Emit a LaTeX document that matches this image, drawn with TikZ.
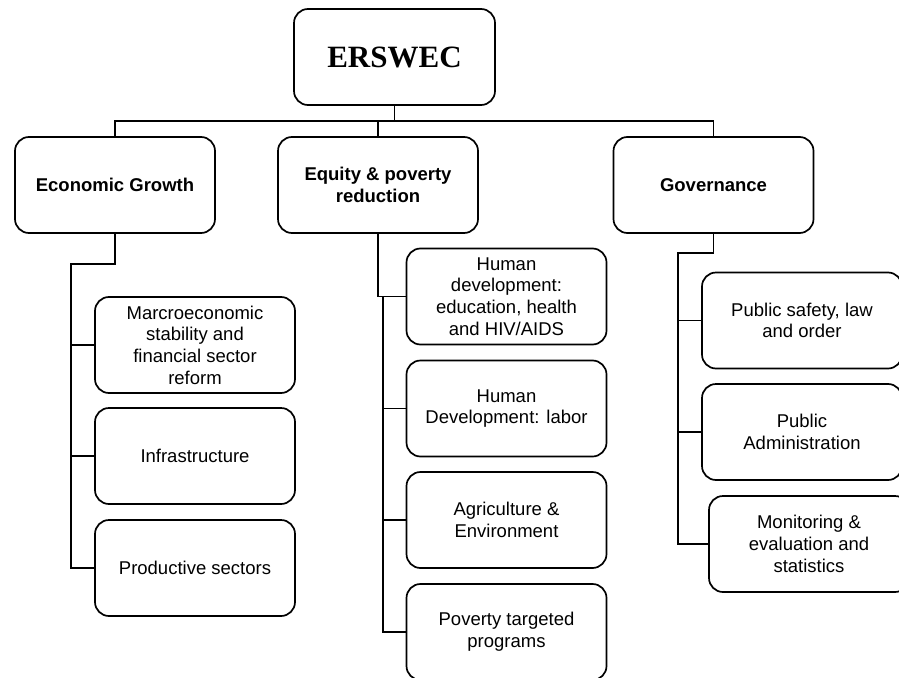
\documentclass[tikz,border=0pt]{standalone}
\usepackage{fontspec}
\setmainfont{Liberation Sans}
\newfontfamily\serifbold{Liberation Serif}
\usepackage{tikz}
\usetikzlibrary{positioning,calc}
\tikzset{
 box/.style={draw=black,line width=1.7pt,rounded corners=14pt,align=center,
   minimum width=200pt,minimum height=96pt,inner sep=4pt,fill=white,
   font=\fontsize{18.5}{21.7}\selectfont},
 headbox/.style={box,font=\fontsize{18.5}{21.7}\selectfont\bfseries},
 topbox/.style={box,minimum width=201pt,font=\fontsize{31}{36}\selectfont\serifbold\bfseries},
 link/.style={line width=1.7pt,draw=black}
}

\begin{document}
\begin{tikzpicture}[x=1pt,y=-1pt]
 \path[fill=white,use as bounding box] (0,0) rectangle (899,677);
 % top and main areas
 \node[topbox] (top) at (394.5,57) {ERSWEC};
 \node[headbox] (econ) at (115,185) {Economic Growth};
 \node[headbox] (equity) at (378,185) {Equity \& poverty\\reduction};
 \node[headbox] (gov) at (713.5,185) {Governance};
 % economic growth
 \node[box] (macro) at (195,345) {Marcroeconomic\\stability and\\financial sector\\reform};
 \node[box] (infra) at (195,456) {Infrastructure};
 \node[box] (prod) at (195,568) {Productive sectors};
 % equity and poverty reduction
 \node[box] (hdev) at (506.5,296.5) {Human\\development:\\education, health\\and HIV/AIDS};
 \node[box] (labor) at (506.5,408.5) {Human\\Development: labor};
 \node[box] (agri) at (506.5,520) {Agriculture \&\\Environment};
 \node[box] (pov) at (506.5,632) {Poverty targeted\\programs};
 % governance
 \node[box] (safety) at (802,320.5) {Public safety, law\\and order};
 \node[box] (admin) at (802,432) {Public\\Administration};
 \node[box] (mon) at (809,544) {Monitoring \&\\evaluation and\\statistics};
 % connectors
 \coordinate (bus) at (394.5,121);
 \coordinate (econtr) at (71,264);
 \coordinate (eqtr) at (383,296.5);
 \coordinate (govtr) at (678,253);
 \draw[link] (top.south) -- (bus);
 \draw[link] (econ.north) |- (bus) -| (gov.north);
 \draw[link] (equity.north) -- (equity.north |- bus);
 \draw[link] (econ.south) |- (econtr) |- (prod.west);
 \draw[link] (econtr |- macro.west) -- (macro.west);
 \draw[link] (econtr |- infra.west) -- (infra.west);
 \draw[link] (equity.south) |- (hdev.west);
 \draw[link] (eqtr) |- (pov.west);
 \draw[link] (eqtr |- labor.west) -- (labor.west);
 \draw[link] (eqtr |- agri.west) -- (agri.west);
 \draw[link] (gov.south) |- (govtr) |- (mon.west);
 \draw[link] (govtr |- safety.west) -- (safety.west);
 \draw[link] (govtr |- admin.west) -- (admin.west);
\end{tikzpicture}
\end{document}
